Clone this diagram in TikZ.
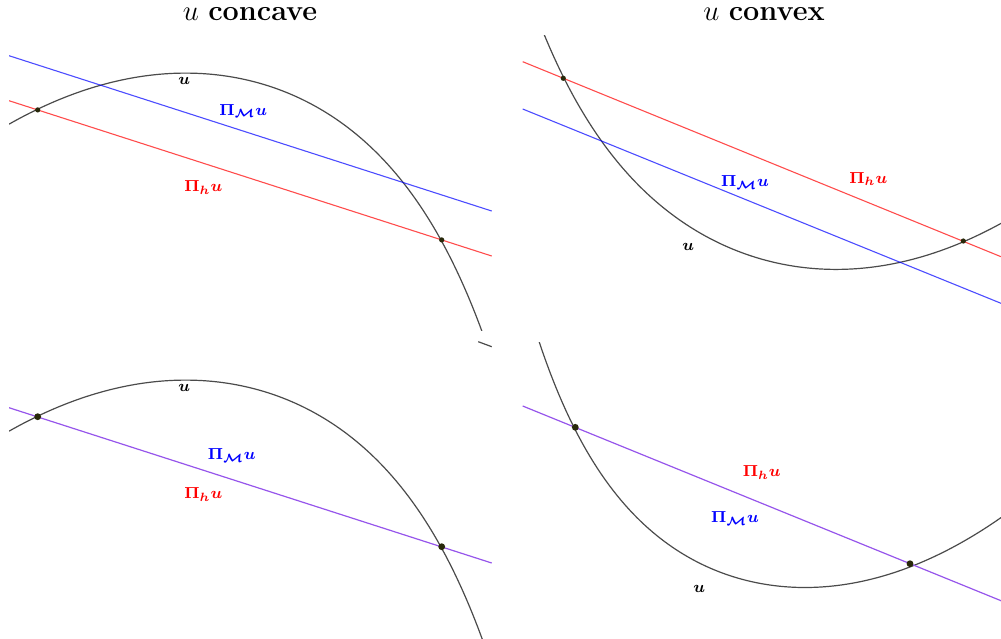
\documentclass[tikz,border=0pt]{standalone}
\usepackage{amsmath,amssymb,bm}
\usetikzlibrary{calc}
\definecolor{curveGray}{RGB}{75,75,75}
\definecolor{knotDot}{RGB}{40,40,10}
\definecolor{bothCol}{RGB}{150,85,235}
\tikzset{
    every node/.append style={align=center},
    curve/.style={draw=curveGray,line width=0.6pt},
    interp/.style={draw=red,line width=0.55pt,opacity=0.7},
    proj/.style={draw=blue,line width=0.55pt,opacity=0.7},
    both/.style={draw=bothCol,line width=0.6pt},
    knot/.style={fill=knotDot},
    lbl/.style={font=\footnotesize,inner sep=1pt},
    ttl/.style={font=\Large,inner sep=1pt}
}
% u concave: flat on the left, steep on the right
\newcommand{\ucave}[1]{70.4+(0.03899*(#1-196.7))^2+2.914*exp(0.0135*(#1-196.7))}

\begin{document}
\begin{tikzpicture}[x=0.5pt,y=-0.5pt]
    \useasboundingbox (0,0) rectangle (1001,638);

    \node[ttl] (tcave) at (250,14) {$u$ \textbf{concave}};
    \node[ttl] (tvex)  at (764,14) {$u$ \textbf{convex}};

    % concave, top: the two lines apart
    \coordinate (tlA) at (37.7,109.9);
    \coordinate (tlB) at (441.7,239.9);
    \begin{scope}
        \clip (9,35) rectangle (492,330);
        \draw[curve] plot[domain=9:484,samples=120] (\x,{\ucave{\x}});
        \draw[proj]   (9,55.7) -- (491.7,211);
        \draw[interp] (9,100.7) -- (491.7,256);
    \end{scope}
    \foreach \k in {tlA,tlB} { \fill[knot] (\k) circle (1.3pt); }
    \node[lbl] (tlu)  at (184.3,81)    {$\bm{u}$};
    \node[lbl,text=blue] (tlpm) at (243.3,111)   {$\bm{\Pi_{\mathcal{M}}u}$};
    \node[lbl,text=red]  (tlph) at (203.3,187.7) {$\bm{\Pi_h u}$};

    % concave, bottom: the two lines coincide
    \coordinate (blA) at (37.7,416.7);
    \coordinate (blB) at (441.7,546.7);
    \begin{scope}
        \clip (9,342) rectangle (492,638);
        \draw[curve] plot[domain=9:490,samples=120] (\x,{307+\ucave{\x}});
        \draw[both] (9,407.7) -- (491.7,563);
    \end{scope}
    \draw[curve] (478.3,341.7) -- (491.7,346.7);
    \foreach \k in {blA,blB} { \fill[knot] (\k) circle (1.7pt); }
    \node[lbl] (blu)  at (184.3,387.7) {$\bm{u}$};
    \node[lbl,text=blue] (blpm) at (231.7,455.7) {$\bm{\Pi_{\mathcal{M}}u}$};
    \node[lbl,text=red]  (blph) at (203.3,494.3) {$\bm{\Pi_h u}$};

    % convex, top
    \coordinate (trA) at (563.3,78.3);
    \coordinate (trB) at (963.3,241);
    \begin{scope}
        \clip (522,35) rectangle (1001,330);
        \draw[curve] plot[domain=538:1001,samples=120]
            (\x,{271.26-(0.04*(\x-828.3))^2-1.959*exp(-0.0141*(\x-828.3))});
        \draw[interp] (522.7,61.7) -- (1001,256.7);
        \draw[proj]   (522.7,109) -- (1001,303.3);
    \end{scope}
    \foreach \k in {trA,trB} { \fill[knot] (\k) circle (1.3pt); }
    \node[lbl] (tru)  at (688.3,246.7) {$\bm{u}$};
    \node[lbl,text=blue] (trpm) at (745,182.3) {$\bm{\Pi_{\mathcal{M}}u}$};
    \node[lbl,text=red]  (trph) at (868.3,179) {$\bm{\Pi_h u}$};

    % convex, bottom
    \coordinate (brA) at (575.3,427.3);
    \coordinate (brB) at (910,563.7);
    \begin{scope}
        \clip (522,342) rectangle (1001,638);
        \draw[curve] plot[domain=535:1001,samples=120]
            (\x,{589.83-(0.04123*(\x-795))^2-2.53*exp(-0.0156*(\x-795))});
        \draw[both] (522.7,406) -- (1001,600.7);
    \end{scope}
    \foreach \k in {brA,brB} { \fill[knot] (\k) circle (1.7pt); }
    \node[lbl] (bru)  at (699.3,589.3) {$\bm{u}$};
    \node[lbl,text=blue] (brpm) at (735,518.3)   {$\bm{\Pi_{\mathcal{M}}u}$};
    \node[lbl,text=red]  (brph) at (761.7,472.3) {$\bm{\Pi_h u}$};
\end{tikzpicture}
\end{document}
